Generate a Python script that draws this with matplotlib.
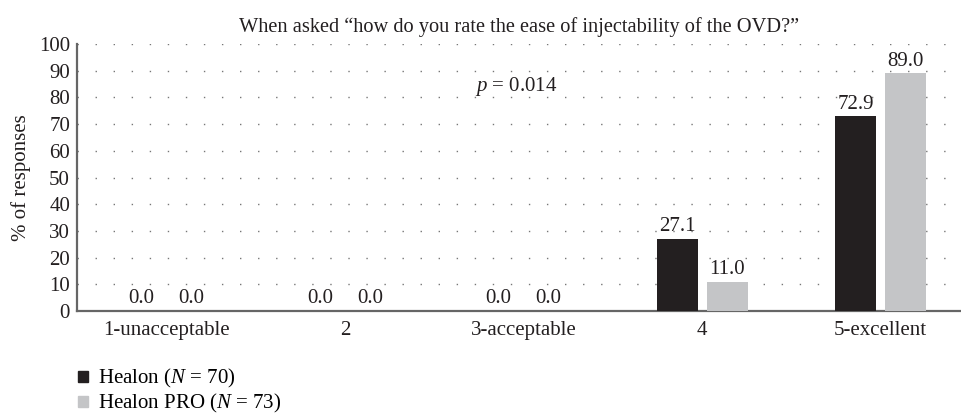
import matplotlib
matplotlib.use("Agg")
import matplotlib.pyplot as plt
import numpy as np
from matplotlib.patches import Patch

categories = ["1-unacceptable", "2", "3-acceptable", "4", "5-excellent"]
healon = [0.0, 0.0, 0.0, 27.1, 72.9]
healon_pro = [0.0, 0.0, 0.0, 11.0, 89.0]
series_names = ["Healon ($\\mathit{N}$ = 70)", "Healon PRO ($\\mathit{N}$ = 73)"]
colors = ["#231f20", "#c4c5c7"]

plt.rcParams["font.family"] = ["Liberation Serif", "DejaVu Serif"]
plt.rcParams["mathtext.fontset"] = "custom"
plt.rcParams["mathtext.it"] = "Liberation Serif:italic"
plt.rcParams["mathtext.rm"] = "Liberation Serif"

fs = 15
fig = plt.figure(figsize=(9.61, 4.19), dpi=100)
ax = fig.add_axes([77 / 961, 108 / 419, 884 / 961, 267 / 419])

x = np.arange(len(categories))
w = 0.23
off = 0.14
b1 = ax.bar(x - off, healon, w, color=colors[0], zorder=3)
b2 = ax.bar(x + off, healon_pro, w, color=colors[1], zorder=3)

for bars, vals in [(b1, healon), (b2, healon_pro)]:
    for rect, v in zip(bars, vals):
        ax.text(rect.get_x() + rect.get_width() / 2, v + 1.0, f"{v:.1f}",
                ha="center", va="bottom", fontsize=fs, color="#231f20")

ax.set_xlim(-0.5, 4.45)
ax.set_ylim(0, 100)
ax.set_yticks(range(0, 101, 10))
ax.set_xticks(x)
ax.set_xticklabels(categories)
ax.tick_params(axis="both", length=0, labelsize=fs, colors="#231f20")
ax.tick_params(axis="x", pad=7)
ax.tick_params(axis="y", pad=5)

for yv in range(10, 101, 10):
    ax.axhline(yv, color="#777777", linewidth=1.0, linestyle=(0, (1, 12)), zorder=1)

for s in ["top", "right"]:
    ax.spines[s].set_visible(False)
for s in ["left", "bottom"]:
    ax.spines[s].set_color("#666666")
    ax.spines[s].set_linewidth(1.6)

ax.set_ylabel("% of responses", fontsize=fs, color="#231f20", labelpad=6)
ax.set_title("When asked \u201chow do you rate the ease of injectability of the OVD?\u201d",
             fontsize=14.7, color="#231f20", pad=9)
ax.text(1.96, 84, "$\\mathit{p}$ = 0.014", ha="center", va="center",
        fontsize=fs, color="#231f20")

handles = [Patch(color=colors[0]), Patch(color=colors[1])]
fig.legend(handles, series_names, loc="upper left", bbox_to_anchor=(70 / 961, 1 - 359 / 419),
           frameon=False, fontsize=fs, handlelength=0.48, handleheight=0.48,
           handletextpad=0.48, labelspacing=0.1, borderaxespad=0)

fig.savefig("out.png", dpi=100)
